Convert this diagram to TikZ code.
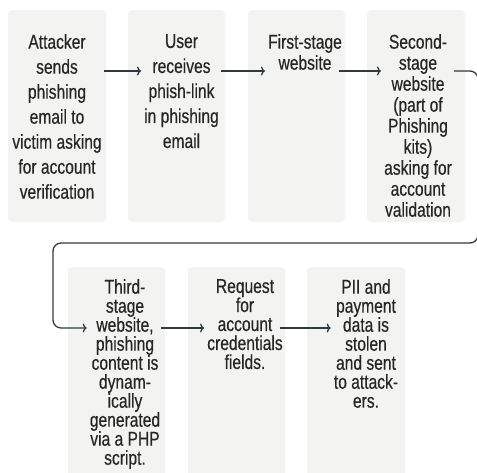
\documentclass[tikz,border=0pt]{standalone}
\usepackage{fontspec}
\setmainfont{Liberation Sans}[FakeStretch=0.78,FakeBold=0.4]
\usetikzlibrary{arrows.meta}
\definecolor{boxfill}{HTML}{F3F3F2}
\definecolor{txt}{HTML}{262626}
\definecolor{arrcol}{HTML}{2E3A42}
\tikzset{
  stagebox/.style={fill=boxfill, draw=none, rounded corners=4pt},
  stagetext/.style={anchor=north, align=center, inner sep=0pt, text=txt},
  sA/.style={font=\fontsize{20}{25}\selectfont},
  sB/.style={font=\fontsize{20}{21}\selectfont},
  sC/.style={font=\fontsize{20}{19}\selectfont},
  arr/.style={draw=arrcol, line width=1.3pt, -{To[length=4pt,width=9pt]}}
}
\begin{document}
\begin{tikzpicture}[x=1pt,y=-1pt]
\useasboundingbox (0,0) rectangle (477,472);
% boxes
\path[stagebox] (8,10) rectangle (106,222);
\path[stagebox] (128,10) rectangle (225,222);
\path[stagebox] (248,10) rectangle (345,222);
\path[stagebox] (367,10) rectangle (465,222);
\path[stagebox] (68,267) rectangle (165,490);
\path[stagebox] (188,267) rectangle (285,490);
\path[stagebox] (307,267) rectangle (405,490);
% texts
\node[stagetext, sA] (t1) at (57,34) {Attacker\\sends\\phishing\\email to\\victim asking\\for account\\verification};
\node[stagetext, sA] (t2) at (181.5,34) {User\\receives\\phish-link\\in phishing\\email};
\node[stagetext, sB] (t3) at (305,34) {First-stage\\website};
\node[stagetext, sB] (t4) at (418,34) {Second-\\stage\\website\\(part of\\Phishing\\kits)\\asking for\\account\\validation};
\node[stagetext, sC] (t5) at (125,279) {Third-\\stage\\website,\\phishing\\content is\\dynam-\\ically\\generated\\via a PHP\\script.};
\node[stagetext, sC] (t6) at (245,279) {Request\\for\\account\\credentials\\fields.};
\node[stagetext, sC] (t7) at (366,279) {PII and\\payment\\data is\\stolen\\and sent\\to attack-\\ers.};
% connectors
\coordinate (row1) at (0,71);
\coordinate (row2) at (0,328);
\coordinate (loopR) at (478,243);
\coordinate (loopL) at (53,243);
\draw[arr] ([xshift=2pt]t1.east |- row1) -- ([xshift=-3pt]t2.west |- row1);
\draw[arr] ([xshift=2pt]t2.east |- row1) -- ([xshift=-3pt]t3.west |- row1);
\draw[arr] ([xshift=-3pt]t3.east |- row1) -- ([xshift=-3pt]t4.west |- row1);
\draw[arr, rounded corners=8pt] ([xshift=2pt]t4.east |- row1) -| (loopR) -- (loopL) |- ([xshift=-3pt]t5.west |- row2);
\draw[arr] ([xshift=1pt]t5.east |- row2) -- ([xshift=-3pt]t6.west |- row2);
\draw[arr] ([xshift=-3pt]t6.east |- row2) -- ([xshift=-3pt]t7.west |- row2);
\end{tikzpicture}
\end{document}
